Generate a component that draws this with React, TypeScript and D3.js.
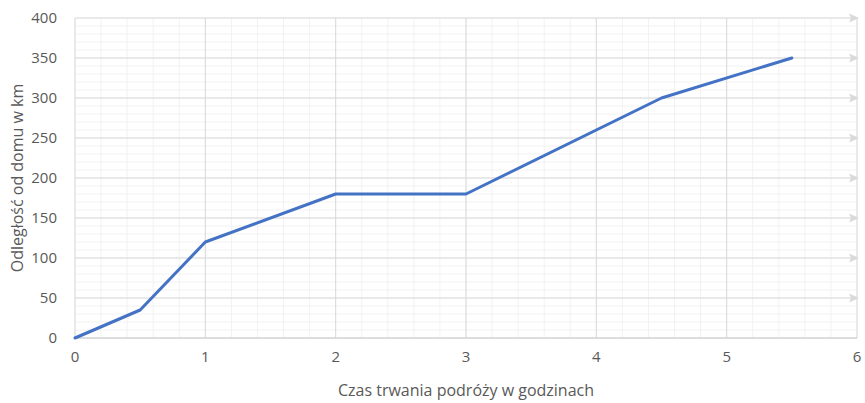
import * as d3 from "d3";

const width = 865;
const height = 403;
const marginLeft = 75;
const marginRight = 7;
const marginTop = 18;
const marginBottom = 65;

const hours = [0, 0.5, 1, 2, 3, 4.5, 5.5];
const distance = [0, 35, 120, 180, 180, 300, 350];
const xTicks = [0, 1, 2, 3, 4, 5, 6];
const yTicks = [0, 50, 100, 150, 200, 250, 300, 350, 400];

const xTitle = "Czas trwania podróży w godzinach";
const yTitle = "Odległość od domu w km";

const font = "'Open Sans', 'Noto Sans', sans-serif";

const App = () => {
  const x = d3.scaleLinear([0, 6], [marginLeft, width - marginRight - 1]);
  const y = d3.scaleLinear([0, 400], [height - marginBottom, marginTop]);

  const xMinor = d3.range(0, 6.0001, 0.2);
  const yMinor = d3.range(0, 400.001, 10);

  const line = d3
    .line<number>()
    .x((d, i) => x(hours[i]))
    .y((d) => y(d));

  const x0 = x(0);
  const x1 = x(6);

  return (
    <svg width={width} height={height} style={{ position: "absolute", left: 0, top: 0 }}>
      <rect width={width} height={height} fill="white" />
      {/* minor grid */}
      <g stroke="#f2f2f2" strokeWidth={1}>
        {xMinor.map((d, i) => (
          <line key={"xm" + i} x1={x(d)} x2={x(d)} y1={y(0)} y2={y(400)} />
        ))}
        {yMinor.map((d, i) => (
          <line key={"ym" + i} x1={x0} x2={x1} y1={y(d)} y2={y(d)} />
        ))}
      </g>
      {/* major grid */}
      <g stroke="#d9d9d9" strokeWidth={1}>
        {xTicks.map((d) => (
          <line key={"x" + d} x1={x(d)} x2={x(d)} y1={y(0)} y2={y(400)} />
        ))}
        {yTicks.map((d) => (
          <line key={"y" + d} x1={x0} x2={x1} y1={y(d)} y2={y(d)} />
        ))}
      </g>
      {/* arrow heads at the ends of the major horizontal lines */}
      <g fill="#d9d9d9">
        {yTicks.slice(1).map((d) => (
          <path
            key={"a" + d}
            d={`M${x1 - 8},${y(d) - 4.5}L${x1 + 2},${y(d)}L${x1 - 8},${y(d) + 4.5}L${x1 - 6},${y(d)}Z`}
          />
        ))}
      </g>
      <line x1={x0} x2={x1} y1={y(0)} y2={y(0)} stroke="#d0d0d0" strokeWidth={1} />

      <path
        d={line(distance) as string}
        fill="none"
        stroke="#4472c4"
        strokeWidth={3}
        strokeLinejoin="round"
        strokeLinecap="round"
      />

      <g fill="#595959" fontFamily={font} fontSize={15}>
        {yTicks.map((d) => (
          <text key={"yl" + d} x={marginLeft - 18} y={y(d)} dy="0.35em" textAnchor="end">
            {d}
          </text>
        ))}
        {xTicks.map((d) => (
          <text key={"xl" + d} x={x(d)} y={y(0) + 24} textAnchor="middle">
            {d}
          </text>
        ))}
      </g>
      <text
        x={(x0 + x1) / 2}
        y={396}
        textAnchor="middle"
        fill="#595959"
        fontFamily={font}
        fontSize={16}
      >
        {xTitle}
      </text>
      <text
        transform={`translate(23,${(y(0) + y(400)) / 2}) rotate(-90)`}
        textAnchor="middle"
        fill="#595959"
        fontFamily={font}
        fontSize={16}
      >
        {yTitle}
      </text>
    </svg>
  );
};

export default App;
